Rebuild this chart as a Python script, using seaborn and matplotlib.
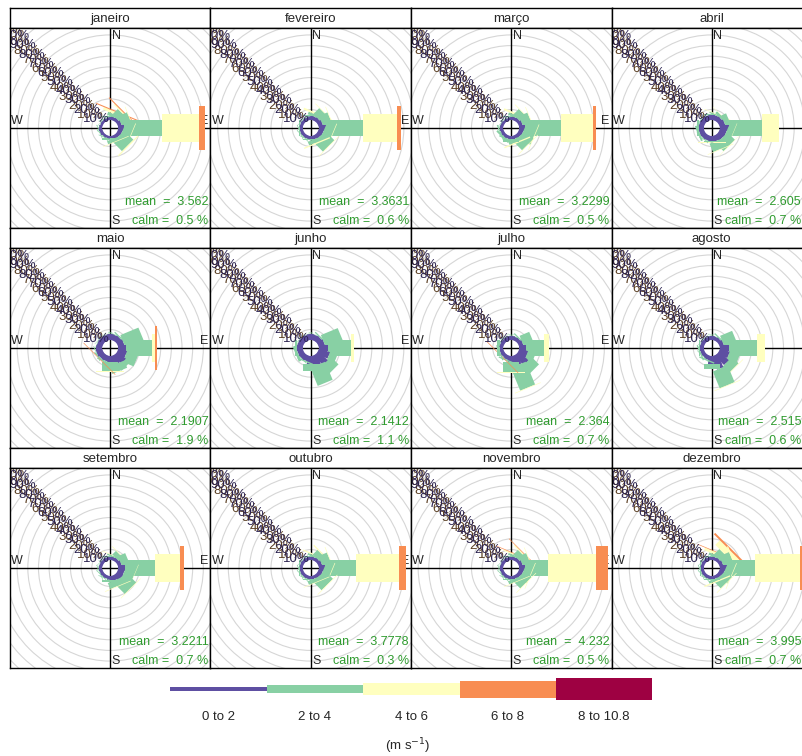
# Rosa dos ventos mensal (estilo openair, paddles)
import numpy as np
import matplotlib.pyplot as plt
import matplotlib.patches as mpatches
import matplotlib.transforms as mtransforms
import seaborn as sns

sns.set_theme(style="white")
plt.rcParams['font.family'] = ['Liberation Sans', 'DejaVu Sans']

# ------------- Dados -------------
meses = ["janeiro", "fevereiro", "março", "abril", "maio", "junho",
         "julho", "agosto", "setembro", "outubro", "novembro", "dezembro"]
direcoes = [0, 22.5, 45, 67.5, 90, 112.5, 135, 157.5,
            180, 202.5, 225, 247.5, 270, 292.5, 315, 337.5]
faixas = ["0 to 2", "2 to 4", "4 to 6", "6 to 8", "8 to 10.8"]
medias = ["3.562", "3.3631", "3.2299", "2.605", "2.1907", "2.1412",
          "2.364", "2.515", "3.2211", "3.7778", "4.232", "3.995"]
calmos = ["0.5", "0.6", "0.5", "0.7", "1.9", "1.1",
          "0.7", "0.6", "0.7", "0.3", "0.5", "0.7"]
rotulos_pct = ["10%", "20%", "30%", "40%", "50%", "60%", "70%", "80%", "90%", "100%"]

# frequencia (%) por direcao (N, NNE, ..., NNW) para cada faixa de velocidade
janeiro = [
    [2.5, 2.5, 2.5, 3, 4.5, 3.5, 3, 2.5, 2, 2, 2, 2.5, 2.5, 2, 2, 2],
    [1, 2.5, 6, 7.5, 29, 7, 10, 2.5, 1, 0.5, 0.5, 0.5, 0.3, 0.3, 0.3, 0.5],
    [0, 2, 1, 0.5, 29, 0.5, 1, 0.5, 0, 0, 0, 0, 0, 0, 0, 0],
    [0, 0.8, 0.8, 0, 4.5, 0, 0, 0, 0, 0, 0, 0, 0, 0, 0, 0],
    [0, 0, 0, 0, 0, 0, 0, 0, 0, 0, 0, 0, 0, 0, 0, 0],
]
fevereiro = [
    [3, 3, 3, 3.5, 5.5, 4, 3.5, 3, 2.5, 2.5, 2.5, 2.5, 2.5, 2.5, 2.5, 2.5],
    [1, 2, 6.5, 7, 29, 7, 10, 3, 1, 0.5, 0.5, 0.5, 0.3, 0.3, 0.3, 0.5],
    [0, 1.5, 0.5, 0.5, 26, 0.5, 0.5, 1, 0, 0, 0, 0, 0, 0, 0, 0],
    [0, 0, 0, 0, 3, 0, 0, 0, 0, 0, 0, 0, 0, 0, 0, 0],
    [0, 0, 0, 0, 0, 0, 0, 0, 0, 0, 0, 0, 0, 0, 0, 0],
]
marco = [
    [2.5, 2.5, 2.5, 3, 4.5, 3.5, 3, 2.5, 2.5, 2.5, 2.5, 2.5, 2.5, 2.5, 2, 2],
    [1, 2, 6, 7, 28, 9, 9, 3, 2, 1, 1.5, 1, 0.5, 0.3, 0.3, 0.5],
    [0, 1.5, 0.5, 0.5, 24.5, 0.5, 0.5, 1, 0, 0, 0, 0, 0, 0, 0, 0],
    [0, 0, 0, 0, 2, 0, 0, 0, 0, 0, 0, 0, 0, 0, 0, 0],
    [0, 0, 0, 0, 0, 0, 0, 0, 0, 0, 0, 0, 0, 0, 0, 0],
]
abril = [
    [4, 4, 4, 4.5, 7, 5.5, 5, 4.5, 4, 4, 4, 4, 4, 4, 4, 4],
    [0.5, 1, 2, 4, 25.5, 5, 8, 7, 1, 0.5, 0.5, 1.5, 1, 0.5, 0.3, 0.3],
    [0, 0.5, 0.3, 0, 13, 0.3, 0.3, 0.5, 0.5, 0, 0, 0, 0, 0, 0, 0],
    [0, 0, 0, 0, 0, 0, 0, 0, 0, 0, 0, 0, 0, 0, 0, 0],
    [0, 0, 0, 0, 0, 0, 0, 0, 0, 0, 0, 0, 0, 0, 0, 0],
]
maio = [
    [4.5, 4.5, 4.5, 5, 6, 7, 8.5, 7, 5, 4.5, 4.5, 5, 5, 4.5, 4.5, 4.5],
    [0.5, 0.5, 1, 15, 20.3, 9, 4, 6, 7, 1, 1, 0.5, 0.3, 0.3, 0.3, 0.3],
    [0, 0, 0, 0, 2.3, 0, 0, 0, 0.8, 0, 0, 0, 0, 0, 0, 0],
    [0, 0, 0, 0, 1.4, 0, 0, 0, 0, 0, 0.5, 0, 0, 0, 0, 0],
    [0, 0, 0, 0, 0, 0, 0, 0, 0, 0, 0, 0, 0, 0, 0, 0],
]
junho = [
    [4.5, 4.5, 4.5, 5, 7, 9, 10, 8, 6, 4.5, 4.5, 4.5, 4.5, 4.5, 4.5, 4.5],
    [0.3, 0.3, 1, 14, 17.8, 6, 8, 15, 6, 1, 0.5, 2, 1.5, 0.3, 0.3, 0.3],
    [0, 0, 0, 0, 2.2, 0, 0, 0, 0, 0, 0, 0, 0, 0, 0, 0],
    [0, 0, 0, 0, 0, 0, 0, 0, 0, 0, 0, 0, 0, 0, 0, 0],
    [0, 0, 0, 0, 0, 0, 0, 0, 0, 0, 0, 0, 0, 0, 0, 0],
]
julho = [
    [3, 3, 3, 3.5, 5, 7, 10, 8, 5, 3.5, 3, 3, 3, 3, 3, 3],
    [0.3, 0.3, 1, 8, 14.4, 6, 8, 19, 7.7, 1, 0.5, 1, 2, 0.5, 0.3, 0.3],
    [0, 0, 0, 0, 3.6, 0, 0, 0.5, 0.6, 0, 0, 0, 0, 0, 0, 0],
    [0, 0, 0, 0, 0, 0, 0, 0, 0, 0, 0.5, 0, 0, 0, 0, 0],
    [0, 0, 0, 0, 0, 0, 0, 0, 0, 0, 0, 0, 0, 0, 0, 0],
]
agosto = [
    [3, 3, 3, 3.5, 7, 8, 10, 11, 6, 3.5, 3, 3, 3, 3, 3, 3],
    [0.3, 0.3, 1, 10, 21.6, 8, 7, 14, 4, 1, 0.5, 1, 1, 0.3, 0.3, 0.3],
    [0, 0, 0, 0, 6.2, 0, 0.5, 0.5, 0.5, 0, 0, 0, 0, 0, 0, 0],
    [0, 0, 0, 0, 0, 0, 0, 0, 0, 0, 0, 0, 0, 0, 0, 0],
    [0, 0, 0, 0, 0, 0, 0, 0, 0, 0, 0, 0, 0, 0, 0, 0],
]
setembro = [
    [2.5, 2.5, 2.5, 3, 5, 5, 5, 4, 3, 2.5, 2.5, 2.5, 2.5, 2.5, 2.5, 2.5],
    [0.5, 1, 4, 6, 23.6, 8, 11, 5, 2, 0.5, 0.5, 0.5, 0.3, 0.3, 0.3, 0.3],
    [0, 0.5, 0.5, 0, 19.2, 0.3, 0.5, 0.5, 0, 0, 0, 0, 0, 0, 0, 0],
    [0, 0, 0, 0, 3.2, 0, 0, 0, 0, 0, 0, 0, 0, 0, 0, 0],
    [0, 0, 0, 0, 0, 0, 0, 0, 0, 0, 0, 0, 0, 0, 0, 0],
]
outubro = [
    [2.5, 2.5, 2.5, 3, 5, 3.5, 3, 2.5, 2.5, 2.5, 2.5, 2.5, 2.5, 2.5, 2.5, 2.5],
    [0.5, 1.5, 5, 7, 23.6, 6, 9, 3, 1, 0.5, 0.5, 0.5, 0.3, 0.3, 0.3, 0.3],
    [0, 1, 1, 0.5, 33, 0.5, 0.5, 0.5, 0, 0, 0, 0, 0, 0, 0, 0],
    [0, 0, 0, 0, 5.3, 0, 0, 0, 0, 0, 0, 0, 0, 0, 0, 0],
    [0, 0, 0, 0, 0, 0, 0, 0, 0, 0, 0, 0, 0, 0, 0, 0],
]
novembro = [
    [2.5, 2.5, 2.5, 3, 4.5, 3.5, 3, 2.5, 2.5, 2.5, 2.5, 2.5, 2.5, 2.5, 2.5, 2.5],
    [0.5, 1.5, 5, 6, 18, 6, 7, 2.5, 1, 0.5, 0.5, 0.5, 0.3, 0.3, 0.3, 0.3],
    [0, 1, 1, 0.5, 37, 0.5, 0.5, 0.5, 0, 0, 0, 0, 0, 0, 0, 0],
    [0, 0.5, 0.5, 0, 8.6, 0, 0, 0, 0, 0, 0, 0, 0, 0, 0, 0],
    [0, 0, 0, 0, 0, 0, 0, 0, 0, 0, 0, 0, 0, 0, 0, 0],
]
dezembro = [
    [2.5, 2.5, 2.5, 3, 5.5, 4, 3, 2.5, 2.5, 2.5, 2.5, 2.5, 2.5, 2.5, 2.5, 2.5],
    [0.5, 2, 6, 8, 21.5, 6, 7, 2, 1, 0.5, 0.5, 0.5, 0.3, 0.3, 0.3, 0.3],
    [0, 2, 5, 1, 34.7, 0.5, 0.5, 1, 0, 0, 0, 0, 0, 0, 0, 0],
    [0, 0.5, 1.5, 0, 5, 0, 0, 0, 0, 0, 0, 0, 0, 0, 0, 0],
    [0, 0, 0, 0, 0, 0, 0, 0, 0, 0, 0, 0, 0, 0, 0, 0],
]
frequencias = [janeiro, fevereiro, marco, abril, maio, junho,
               julho, agosto, setembro, outubro, novembro, dezembro]

# ------------- Estilo -------------
cores = sns.color_palette(["#5E4FA2", "#88D0A4", "#FFFFBF", "#F88D52", "#9E0142"])
verde_txt = "#2E9B2E"
W, H = 803, 756
PX = 1.3          # pixels por %
OFF = 6           # deslocamento do centro (%)
PASSO_GRADE = 8.2 # espacamento dos circulos da grade (%)
meia_larg = [2.6, 6.2, 10.7, 17.2, 21]
col_x = [10, 210.5, 411, 611.5]
lin_y = [8, 228, 448]

fig = plt.figure(figsize=(W / 100, H / 100), dpi=100)


def paddle(ax, ang, r1, r2, hw, cor):
    t = np.deg2rad(ang)
    u = np.array([np.sin(t), np.cos(t)])
    v = np.array([np.cos(t), -np.sin(t)])
    pts = [(OFF + r1) * u - hw * v, (OFF + r2) * u - hw * v,
           (OFF + r2) * u + hw * v, (OFF + r1) * u + hw * v]
    ax.add_patch(mpatches.Polygon(pts, closed=True, facecolor=cor,
                                  edgecolor="none", zorder=3))


for m, mes in enumerate(meses):
    x0 = col_x[m % 4]
    y0 = lin_y[m // 4]
    # faixa do titulo
    st = fig.add_axes([x0 / W, 1 - (y0 + 20) / H, 200.5 / W, 20 / H])
    st.set_xticks([])
    st.set_yticks([])
    st.set_facecolor("white")
    for s in st.spines.values():
        s.set_color("black")
        s.set_linewidth(1)
    st.text(0.5, 0.45, mes, ha="center", va="center", fontsize=9.5,
            transform=st.transAxes)

    ax = fig.add_axes([x0 / W, 1 - (y0 + 220) / H, 200.5 / W, 200 / H])
    hx = 100.25 / PX
    hy = 100 / PX
    ax.set_xlim(-hx, hx)
    ax.set_ylim(-hy, hy)
    ax.set_xticks([])
    ax.set_yticks([])
    for s in ax.spines.values():
        s.set_color("black")
        s.set_linewidth(1)
        s.set_zorder(10)

    # grade circular
    for k in range(1, 14):
        ax.add_patch(mpatches.Circle((0, 0), OFF + PASSO_GRADE * k, fill=False,
                                     edgecolor="#d6d6d6", lw=0.8, zorder=1))
    ax.axhline(0, color="black", lw=1, zorder=2)
    ax.axvline(0, color="black", lw=1, zorder=2)

    # pontos cardeais (ficam por baixo dos paddles)
    ax.text(1.5 / PX, hy - 2 / PX, "N", ha="left", va="top", fontsize=9, zorder=2.5)
    ax.text(1.5 / PX, -hy + 1 / PX, "S", ha="left", va="bottom", fontsize=9, zorder=2.5)
    ax.text(-hx + 1 / PX, 1 / PX, "W", ha="left", va="bottom", fontsize=9, zorder=2.5)
    ax.text(hx - 2 / PX, 1 / PX, "E", ha="right", va="bottom", fontsize=9, zorder=2.5)

    # paddles
    dados = np.array(frequencias[m])
    cum = np.cumsum(dados, axis=0)
    for d, ang in enumerate(direcoes):
        for j in range(5):
            r2 = cum[j, d]
            r1 = r2 - dados[j, d]
            if dados[j, d] > 0:
                paddle(ax, ang, r1, r2, meia_larg[j], cores[j])

    # rotulos de porcentagem na diagonal (duplicados, como no original)
    tr1 = mtransforms.offset_copy(ax.transData, fig=fig, x=-3.6, y=-1.4, units="points")
    tr2 = mtransforms.offset_copy(ax.transData, fig=fig, x=0.5, y=-4.0, units="points")
    for k, lab in enumerate(rotulos_pct, start=1):
        R = (OFF + 10 * k) / np.sqrt(2)
        ax.text(-R, R, lab, transform=tr1, ha="center", va="center", fontsize=9.5,
                color="#5a3e22", zorder=5, clip_on=True)
        ax.text(-R, R, lab, transform=tr2, ha="center", va="center", fontsize=9.5,
                color="#2c2350", zorder=5, clip_on=True)

    # media e calmaria
    xr = min(x0 + 200.5, W) - 2
    xr_d = (xr - x0 - 100.25) / PX
    ax.text(xr_d, -hy + 26 / PX, f"mean  =  {medias[m]}", ha="right", va="center",
            fontsize=9, color=verde_txt, zorder=6)
    ax.text(xr_d, -hy + 7 / PX, f"calm =  {calmos[m]} %", ha="right", va="center",
            fontsize=9, color=verde_txt, zorder=6)

# ------------- Legenda -------------
lg = fig.add_axes([0, 0, 1, 1], facecolor="none")
lg.set_xlim(0, W)
lg.set_ylim(H, 0)
lg.axis("off")
bordas = [170, 267, 363, 460, 556, 652]
alturas = [4.3, 8.7, 11.6, 17, 21.3]
for j, faixa in enumerate(faixas):
    lg.add_patch(mpatches.Rectangle((bordas[j], 689 - alturas[j] / 2),
                                    bordas[j + 1] - bordas[j], alturas[j],
                                    facecolor=cores[j], edgecolor="none"))
    lg.text((bordas[j] + bordas[j + 1]) / 2, 717, faixa, ha="center", va="center",
            fontsize=9.5)
lg.text(408, 746, r"(m s$^{-1}$)", ha="center", va="center", fontsize=9.5)

fig.savefig("out.png", dpi=100)
